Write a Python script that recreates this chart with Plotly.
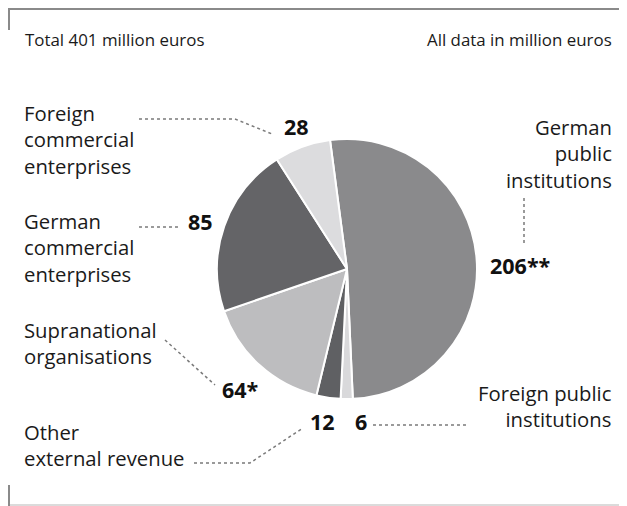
import plotly.graph_objects as go

# Data
categories = ["German public institutions", "Foreign public institutions", "Other external revenue",
              "Supranational organisations", "German commercial enterprises", "Foreign commercial enterprises"]
values = [206, 6, 12, 64, 85, 28]
value_labels = ["206**", "6", "12", "64*", "85", "28"]
colors = ["#8a8a8c", "#d9d9db", "#5f6063", "#bdbdbf", "#646467", "#dcdcde"]

W, H = 627, 506
OFF = 8  # page body margin
def X(px): return (px - OFF) / W
def Y(py): return 1 - (py - OFF) / H

fig = go.Figure(go.Pie(
    labels=categories, values=values, sort=False, direction="clockwise", rotation=-7.5,
    marker=dict(colors=colors, line=dict(color="white", width=2)),
    textinfo="none", hoverinfo="label+value", showlegend=False,
    domain=dict(x=[X(217), X(477)], y=[Y(399), Y(139)]),
))

FONT = "Open Sans"
LSIZE = 20.3
LBL = dict(family=FONT, size=LSIZE, color="#1a1a1a")
NUM = dict(family=FONT, size=21.5, color="#111111")
SMALL = dict(family=FONT, size=16.9, color="#1a1a1a")
LINE_H = 1.3 * LSIZE

ann = []
def text(t, x, y, font, anchor="left"):
    ann.append(dict(text=t, x=X(x), y=Y(y), xref="paper", yref="paper", xanchor=anchor,
                    yanchor="middle", align=anchor, showarrow=False, font=font))

def block(lines, x, y_first, anchor="left"):
    yc = y_first + (len(lines) - 1) * LINE_H / 2
    text("<br>".join(lines), x, yc, LBL, anchor)

text("Total 401 million euros", 23, 40, SMALL)
text("All data in million euros", 614, 40, SMALL, "right")

# category labels
block(["Foreign", "commercial", "enterprises"], 22, 113)
block(["German", "commercial", "enterprises"], 22, 221)
block(["Supranational", "organisations"], 22, 330)
block(["Other", "external revenue"], 22, 432)
block(["German", "public", "institutions"], 614, 127, "right")
block(["Foreign public", "institutions"], 614, 393, "right")

# value labels
text("<b>%s</b>" % value_labels[5], 282, 127, NUM)
text("<b>%s</b>" % value_labels[4], 186, 221, NUM)
text("<b>%s</b>" % value_labels[0], 488, 265, NUM)
text("<b>%s</b>" % value_labels[3], 220, 389, NUM)
text("<b>%s</b>" % value_labels[2], 308, 421, NUM)
text("<b>%s</b>" % value_labels[1], 353, 421, NUM)

dot = dict(color="#7a7a7a", width=1.5, dash="dot")
def path(points):
    d = "M " + " L ".join("%f,%f" % (X(a), Y(b)) for a, b in points)
    return dict(type="path", path=d, xref="paper", yref="paper", line=dot)

shapes = [
    path([(139, 119), (235, 119), (272, 134)]),
    path([(139, 227), (180, 227)]),
    path([(524, 198), (524, 243)]),
    path([(165, 340), (215, 385)]),
    path([(194, 463), (250, 463), (303, 428)]),
    path([(373, 425), (467, 425)]),
]
frame = dict(color="#8a8a8a", width=2)
def seg(x0, y0, x1, y1, line):
    return dict(type="line", xref="paper", yref="paper", x0=X(x0), y0=Y(y0), x1=X(x1), y1=Y(y1), line=line)
shapes += [
    seg(9, 9, 627, 9, frame),
    seg(9, 8, 9, 30, frame),
    seg(9, 505, 627, 505, dict(color="#cfcfcf", width=1.5)),
    seg(9, 485, 9, 506, frame),
]

fig.update_layout(
    width=W, height=H, margin=dict(l=0, r=0, t=0, b=0),
    paper_bgcolor="white", plot_bgcolor="white",
    annotations=ann, shapes=shapes,
)
fig.write_html("out.html")
